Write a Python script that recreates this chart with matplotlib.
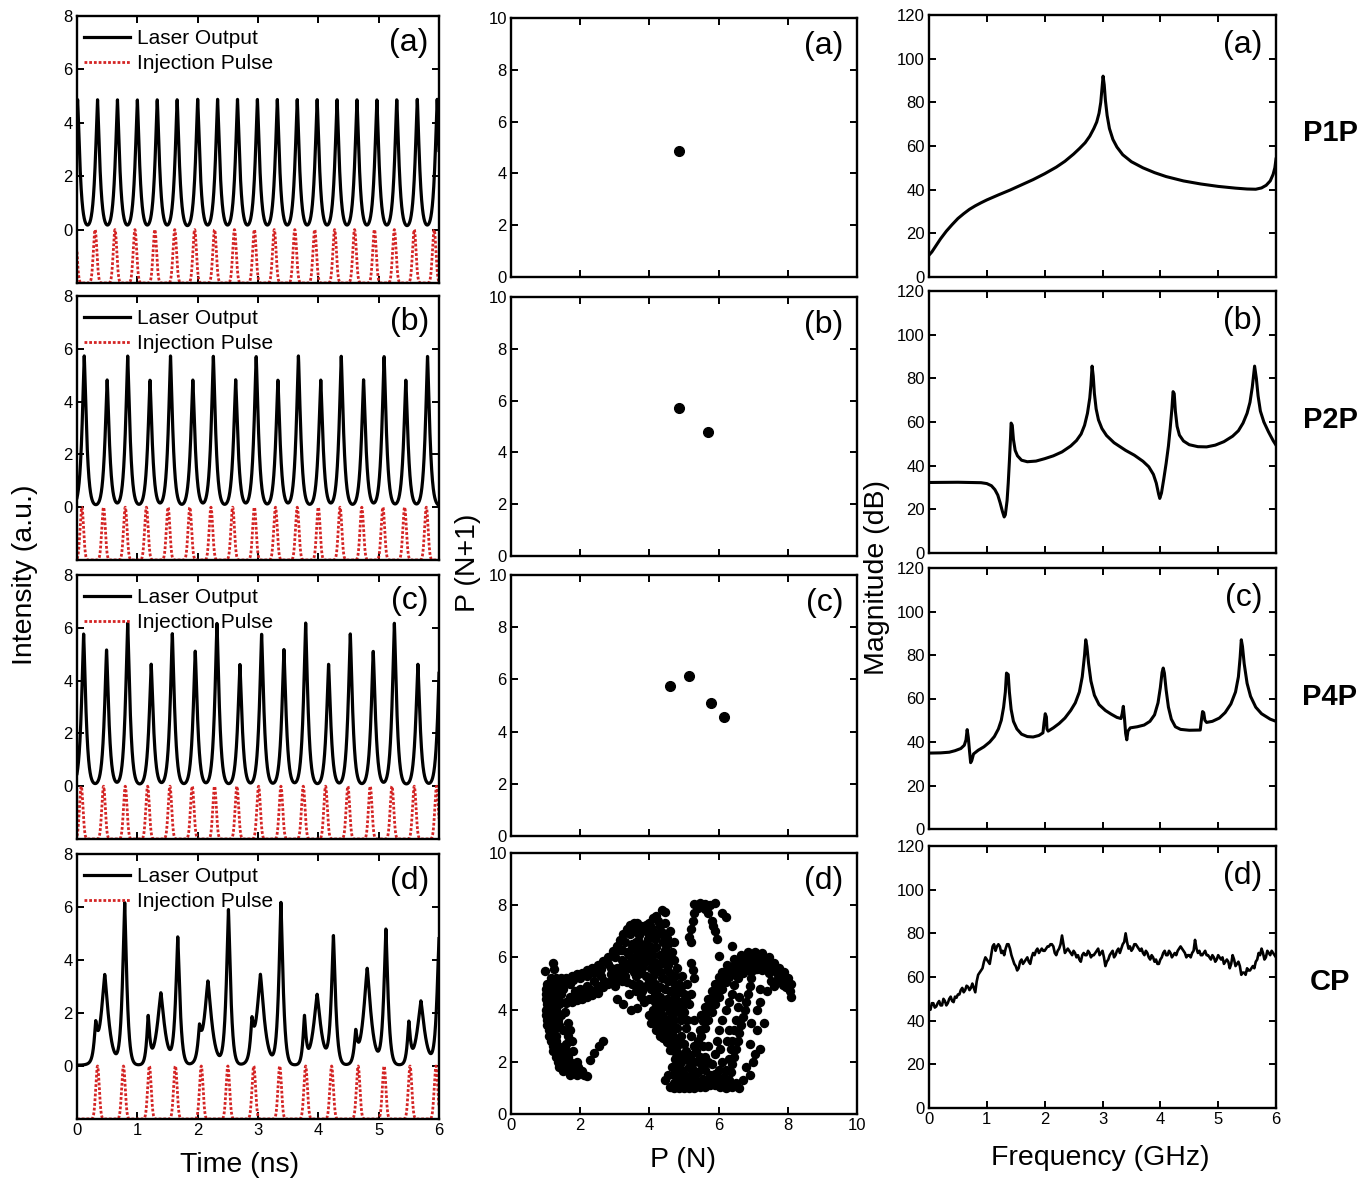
import numpy as np
import matplotlib.pyplot as plt

plt.rcParams['font.family'] = ['Liberation Sans', 'DejaVu Sans']

W, H = 1371, 1180

# ---------------- time traces: pulse peaks (ns) and heights (a.u.) ----------------
inj_a = [-0.03, 0.30, 0.63, 0.96, 1.29, 1.62, 1.95, 2.28, 2.61, 2.94, 3.27, 3.61,
         3.94, 4.27, 4.60, 4.93, 5.26, 5.59, 5.92]
laser_a_t = [0.01, 0.34, 0.67, 1.00, 1.33, 1.66, 2.00, 2.33, 2.66, 2.99, 3.32, 3.65,
             3.98, 4.31, 4.64, 4.97, 5.30, 5.64, 5.97]
laser_a_h = [4.85] * 19

inj_b = [0.08, 0.44, 0.80, 1.15, 1.51, 1.87, 2.22, 2.58, 2.94, 3.29, 3.65, 4.00,
         4.36, 4.72, 5.07, 5.43, 5.79]
laser_b_t = [0.12, 0.50, 0.84, 1.21, 1.55, 1.92, 2.26, 2.63, 2.97, 3.33, 3.67, 4.04,
             4.38, 4.75, 5.09, 5.45, 5.81]
laser_b_h = [5.7, 4.8, 5.7, 4.8, 5.7, 4.8, 5.7, 4.8, 5.7, 4.8, 5.7, 4.8, 5.7, 4.8,
             5.7, 4.8, 5.7]

inj_c = [0.07, 0.44, 0.80, 1.17, 1.54, 1.91, 2.28, 2.65, 3.01, 3.38, 3.75, 4.12,
         4.49, 4.86, 5.22, 5.59, 5.96]
laser_c_t = [0.11, 0.49, 0.84, 1.23, 1.58, 1.96, 2.32, 2.70, 3.06, 3.43, 3.79, 4.17,
             4.53, 4.91, 5.26, 5.65, 6.02]
laser_c_h = [5.75, 5.15, 6.15, 4.6, 5.75, 5.1, 6.15, 4.6, 5.75, 5.15, 6.15, 4.6,
             5.75, 5.1, 6.15, 4.6, 5.75]

inj_d = [0.34, 0.77, 1.20, 1.63, 2.06, 2.50, 2.93, 3.36, 3.79, 4.22, 4.66, 5.09,
         5.52, 5.95]
laser_d_t = [0.31, 0.46, 0.79, 1.18, 1.39, 1.67, 2.03, 2.17, 2.51, 2.90, 3.04, 3.38,
             3.77, 3.98, 4.25, 4.62, 4.81, 5.12, 5.50, 5.70, 6.00]
laser_d_h = [1.17, 3.43, 6.14, 1.74, 2.74, 4.80, 1.00, 3.18, 5.86, 1.23, 3.43, 6.14,
             1.74, 2.68, 4.86, 1.07, 3.66, 5.13, 1.51, 2.43, 4.75]
laser_d_w = [0.035, 0.09, 0.05, 0.035, 0.09, 0.05, 0.035, 0.09, 0.05, 0.035,
             0.09, 0.05, 0.035, 0.09, 0.05, 0.035, 0.09, 0.05, 0.035, 0.09,
             0.05]

# ---------------- return maps P(N) -> P(N+1) ----------------
map_a_x, map_a_y = [4.85], [4.85]
map_b_x, map_b_y = [4.85, 5.7], [5.7, 4.8]
map_c_x, map_c_y = [4.6, 5.15, 5.78, 6.16], [5.75, 6.13, 5.1, 4.56]

chaos_left = [
    (1.15, 5.2), (1.3, 5.2), (1.45, 5.2), (1.6, 5.2), (1.05, 5.0), (1.2, 5.0), (1.35, 5.0),
    (1.5, 5.0), (1.7, 5.0), (1.0, 4.8), (1.15, 4.8), (1.3, 4.8), (1.5, 4.8), (1.0, 4.6),
    (1.15, 4.6), (1.3, 4.6), (1.45, 4.6), (1.0, 4.4), (1.2, 4.4), (1.35, 4.4), (1.05, 4.2),
    (1.2, 4.2), (1.4, 4.2), (1.0, 4.0), (1.15, 4.0), (1.3, 4.0), (1.0, 3.8), (1.15, 3.8),
    (1.3, 3.8), (1.45, 3.8), (1.05, 3.6), (1.2, 3.6), (1.35, 3.6), (1.05, 3.4), (1.2, 3.4),
    (1.4, 3.4), (1.1, 3.2), (1.25, 3.2), (1.5, 3.2), (1.1, 3.0), (1.3, 3.0), (1.65, 3.0),
    (1.15, 2.8), (1.3, 2.8), (1.75, 2.8), (1.2, 2.6), (1.35, 2.6), (1.55, 2.6), (1.2, 2.4),
    (1.4, 2.4), (1.6, 2.4), (1.8, 2.4), (1.3, 2.2), (1.45, 2.2), (1.65, 2.2), (1.35, 2.0),
    (1.5, 2.0), (1.7, 2.0), (1.9, 2.0), (1.4, 1.8), (1.55, 1.8), (1.75, 1.8), (1.95, 1.8),
    (1.5, 1.65), (1.65, 1.65), (1.85, 1.65), (2.05, 1.65), (1.7, 1.5), (1.9, 1.5), (2.1, 1.5),
    (2.2, 1.45), (0.98, 5.47), (1.2, 5.78), (1.25, 5.55),
    (1.6, 4.3), (1.55, 3.9), (1.65, 3.5), (1.7, 3.2), (1.6, 2.7),
    (2.27, 2.08), (2.41, 2.34), (2.54, 2.59), (2.66, 2.78),
]
chaos_arch = [
    (1.75, 5.3), (1.9, 5.35), (2.05, 5.4), (2.2, 5.5), (2.35, 5.6), (2.5, 5.7), (2.65, 5.85),
    (2.8, 6.0), (2.95, 6.25), (3.05, 6.45), (3.15, 6.65), (3.25, 6.9), (3.35, 7.1),
    (3.45, 7.25), (3.55, 7.3), (3.65, 7.3), (3.75, 7.2), (3.85, 7.05),
    (1.8, 5.15), (2.0, 5.2), (2.2, 5.3), (2.4, 5.4), (2.6, 5.55), (2.8, 5.75), (3.0, 6.0),
    (3.15, 6.3), (3.3, 6.6), (3.45, 6.9), (3.6, 7.05),
    (1.6, 4.25), (1.75, 4.3), (1.9, 4.35), (2.05, 4.4), (2.2, 4.5), (2.35, 4.55), (2.5, 4.65),
    (2.65, 4.85), (2.8, 5.0), (2.95, 5.2), (3.1, 5.45), (3.25, 5.75), (3.4, 6.1), (3.5, 6.35),
    (3.6, 6.6), (3.7, 6.85), (3.8, 7.0), (3.9, 7.1), (4.0, 7.3),
    (1.7, 4.5), (1.9, 4.55), (2.1, 4.6), (2.3, 4.75), (2.5, 4.9), (2.7, 5.1), (2.9, 5.35),
    (3.05, 5.6), (3.2, 5.9), (3.35, 6.2),
    (3.0, 4.9), (3.2, 5.1), (3.3, 5.3), (3.4, 5.6), (3.5, 5.0), (3.6, 5.3), (3.7, 5.8),
    (3.55, 5.9), (3.75, 6.3), (4.1, 7.5), (4.2, 7.6), (4.35, 7.8), (4.45, 7.75), (4.0, 6.9),
    (3.95, 6.7), (3.05, 4.4), (3.24, 4.2), (3.48, 4.0), (3.65, 4.05), (3.77, 4.5), (3.8, 4.7),
    (3.4, 4.6),
    (2.9, 5.1), (3.1, 5.3), (3.25, 5.5), (3.1, 5.15), (3.35, 5.05), (3.55, 5.45), (3.65, 5.65),
    (3.45, 5.8), (3.6, 6.3), (3.5, 6.5), (3.7, 6.6), (3.8, 6.2), (3.85, 5.8), (3.75, 5.4),
    (3.7, 5.0), (3.6, 4.7), (3.85, 4.3),
]
chaos_center = [
    (3.9, 6.5), (3.95, 6.2), (4.0, 5.9), (4.05, 5.6), (4.1, 5.3), (4.15, 5.0), (4.2, 4.7),
    (4.25, 4.4), (4.3, 4.1), (4.35, 3.8), (4.4, 3.5), (4.45, 3.2),
    (4.3, 7.2), (4.35, 6.9), (4.4, 6.6), (4.45, 6.3), (4.5, 6.0), (4.55, 5.7), (4.6, 5.4),
    (4.65, 5.1), (4.7, 4.8), (4.75, 4.5), (4.8, 4.2), (4.85, 3.9),
    (4.1, 7.0), (4.15, 6.7), (4.2, 6.4), (4.3, 6.1), (4.35, 5.8),
    (4.2, 3.2), (4.3, 3.0), (4.4, 2.9), (4.5, 3.0), (4.6, 3.3), (4.5, 3.6), (4.6, 3.9),
    (4.4, 4.1), (4.5, 4.4), (4.6, 4.7), (4.7, 3.6), (4.8, 3.3), (4.9, 3.6), (5.0, 3.9),
    (4.9, 4.3), (5.0, 4.6), (4.85, 5.0), (4.95, 5.3), (4.1, 4.0), (4.0, 4.4), (3.9, 4.9),
    (4.0, 5.1), (4.25, 5.5), (4.4, 5.2), (4.45, 4.8), (4.3, 4.5), (4.65, 4.3), (4.7, 4.0),
    (4.3, 5.45), (4.5, 5.5), (5.2, 5.8), (5.25, 5.5), (5.3, 5.2), (5.1, 5.0), (5.2, 4.6),
    (5.15, 4.2),
    (3.85, 6.0), (3.8, 5.6), (3.9, 5.3), (4.05, 4.8), (4.15, 4.3), (4.2, 3.9), (4.3, 3.6),
    (4.55, 3.45), (4.65, 3.1), (4.75, 2.9), (4.6, 2.7), (4.7, 2.4), (4.75, 2.1), (4.65, 1.8),
    (4.55, 1.5), (4.45, 1.3), (5.05, 3.3), (5.1, 3.6), (4.55, 5.1), (4.65, 6.2), (4.7, 6.6),
    (4.6, 7.0), (4.45, 7.3), (3.7, 6.4), (3.6, 6.0), (3.3, 5.8), (2.9, 5.6), (2.6, 5.3),
    (2.4, 5.1), (2.2, 4.9), (2.0, 4.8), (1.85, 4.7), (3.2, 6.3), (3.9, 7.25), (4.05, 7.15),
    (4.25, 7.4),
    (4.05, 3.5), (4.15, 3.6), (4.0, 3.8), (4.25, 3.35), (4.5, 3.25), (4.75, 3.3), (4.9, 3.85),
    (4.95, 4.1), (5.05, 4.35), (4.8, 4.65), (4.9, 4.85), (4.75, 5.3), (4.8, 5.6), (4.7, 5.9),
    (4.55, 6.5), (4.4, 6.95), (4.25, 6.9), (4.5, 6.75), (4.05, 6.4), (4.1, 6.1), (4.2, 5.8),
    (4.35, 5.2), (4.3, 4.85), (4.15, 4.55), (4.4, 4.35), (4.55, 4.15), (4.65, 3.75),
    (4.35, 3.3), (4.5, 2.75), (4.6, 2.45), (4.85, 2.75), (4.8, 1.7), (4.7, 1.5), (4.85, 1.9),
    (5.0, 2.2), (5.0, 1.55), (5.25, 1.7), (5.2, 2.25),
]
chaos_right = [
    (4.9, 3.0), (5.0, 2.7), (5.05, 2.4), (5.1, 2.1), (5.15, 1.8), (5.2, 1.5), (4.8, 2.6),
    (4.85, 2.3), (4.9, 2.0), (4.95, 1.7), (4.8, 1.4), (4.7, 1.2), (4.6, 1.05), (5.0, 1.3),
    (5.1, 1.15),
    (5.3, 2.0), (5.35, 2.4), (5.4, 2.8), (5.45, 3.2), (5.55, 3.55), (5.65, 3.9), (5.75, 4.2),
    (5.85, 4.5), (5.95, 4.8), (6.05, 5.05), (6.15, 5.3), (6.25, 5.5), (6.35, 5.65),
    (6.5, 5.8), (6.6, 5.9), (6.7, 6.0), (6.8, 6.05), (6.9, 6.1), (7.0, 6.1), (7.1, 6.1),
    (7.2, 6.05), (7.3, 5.95), (7.4, 5.85), (7.5, 5.7), (7.6, 5.55), (7.7, 5.4),
    (5.5, 3.0), (5.6, 3.3), (5.7, 3.6), (5.8, 3.9), (5.9, 4.2), (6.0, 4.5), (6.1, 4.8),
    (6.2, 5.05), (6.3, 5.25), (6.45, 5.45), (6.6, 5.6), (6.75, 5.75), (6.9, 5.85),
    (7.05, 5.85), (7.2, 5.8), (7.35, 5.65),
    (5.5, 3.8), (5.6, 4.1), (5.7, 4.4), (5.8, 4.7), (5.9, 5.0), (6.0, 5.25), (6.1, 5.45),
    (6.25, 5.7), (6.45, 5.95), (6.65, 6.1), (6.85, 6.2), (7.05, 6.2), (7.25, 6.15),
    (7.45, 6.0), (7.6, 5.8), (7.75, 5.6), (7.9, 5.45), (6.95, 5.7), (7.15, 5.7), (7.4, 5.55),
    (5.4, 1.6), (5.5, 1.9), (5.6, 2.2), (5.7, 2.6), (5.35, 1.3), (5.55, 1.35), (5.75, 1.5),
    (5.8, 1.9), (5.9, 2.3), (5.95, 2.8), (6.0, 3.2),
    (5.3, 3.6), (5.2, 3.0), (5.3, 2.6), (5.45, 2.2), (5.55, 2.6), (5.6, 1.7), (5.7, 2.0),
    (6.1, 3.6), (6.2, 4.0), (6.3, 4.3), (6.4, 4.6), (6.45, 4.95), (6.55, 5.2), (6.7, 5.4),
    (6.85, 5.5), (7.1, 5.55), (7.25, 5.5), (7.45, 5.4), (7.5, 5.1), (7.4, 4.7),
    (6.05, 2.5), (6.1, 2.0), (6.0, 1.7), (5.9, 1.55), (6.25, 2.8), (6.3, 3.2),
    (7.8, 5.3), (7.9, 5.1), (8.0, 5.2), (8.1, 5.0), (7.95, 4.85), (8.05, 4.7), (8.1, 4.5),
    (7.85, 4.95), (7.7, 5.15), (7.6, 4.9),
    (7.0, 5.5), (6.95, 5.2), (6.9, 4.9), (6.85, 4.6), (6.8, 4.3), (6.75, 4.0), (6.7, 3.7),
    (6.65, 3.4), (6.6, 3.1), (6.55, 2.8), (6.5, 2.5), (6.45, 2.2), (6.4, 1.9), (6.35, 1.6),
    (6.3, 1.3), (6.25, 1.05),
    (6.6, 4.5), (6.55, 4.1), (6.5, 3.6), (6.45, 3.2), (6.4, 2.8), (6.35, 2.5), (6.3, 2.1),
    (6.2, 1.7), (6.15, 1.4),
    (7.1, 4.0), (7.3, 3.5), (7.2, 4.3), (6.95, 3.5), (6.9, 2.7), (7.05, 2.3), (7.2, 2.5),
    (7.0, 2.0), (6.8, 1.8), (6.9, 1.5), (7.1, 3.2), (6.7, 1.3), (6.6, 1.0), (7.2, 4.8),
    (4.7, 1.0), (4.85, 1.0), (5.0, 1.0), (5.15, 1.0), (5.3, 1.0), (5.45, 1.05), (5.6, 1.05),
    (5.75, 1.1), (5.9, 1.1), (6.05, 1.05), (6.2, 1.0), (6.4, 1.05), (6.5, 1.2), (5.2, 1.25),
    (5.5, 1.2), (5.8, 1.3), (6.0, 1.35), (6.1, 1.2), (5.65, 1.25), (4.9, 1.2),
]
chaos_top = [
    (5.3, 8.05), (5.45, 8.1), (5.6, 8.05), (5.9, 8.1), (5.75, 8.0), (6.1, 7.7), (6.2, 7.55),
    (5.3, 7.7), (5.25, 7.4), (5.2, 7.1), (5.15, 6.8), (5.2, 6.6), (5.7, 7.7), (5.8, 7.4),
    (5.85, 7.2), (5.9, 7.0), (5.95, 6.7), (6.02, 6.04), (6.4, 6.42), (5.4, 7.9), (5.6, 7.85),
]

# ---------------- RF spectra (GHz, dB) ----------------
spec_a = [
    (0.0, 10.0), (0.05, 11.5), (0.1, 13.5), (0.15, 15.5), (0.2, 17.5), (0.3, 21.0),
    (0.4, 24.0), (0.5, 26.8), (0.6, 29.0), (0.7, 31.0), (0.8, 32.6), (0.9, 34.0),
    (1.0, 35.3), (1.2, 37.6), (1.4, 39.8), (1.6, 42.2), (1.8, 44.6), (2.0, 47.3),
    (2.2, 50.3), (2.35, 53.0), (2.5, 56.3), (2.6, 58.8), (2.7, 61.5), (2.78, 64.5),
    (2.85, 68.0), (2.9, 71.0), (2.94, 75.0), (2.97, 80.0), (2.99, 86.0), (3.01, 92.0),
    (3.03, 88.0), (3.05, 81.0), (3.08, 74.0), (3.12, 68.0), (3.18, 63.0), (3.25, 59.5),
    (3.35, 56.0), (3.5, 52.8), (3.7, 50.0), (3.9, 47.8), (4.1, 46.0), (4.4, 44.0),
    (4.7, 42.6), (5.0, 41.5), (5.3, 40.7), (5.5, 40.3), (5.65, 40.2), (5.75, 40.8),
    (5.83, 42.0), (5.9, 44.0), (5.95, 47.0), (5.98, 50.0), (6.0, 54.0),
]
spec_b = [
    (0.0, 32.3), (0.5, 32.4), (0.9, 32.2), (1.0, 31.8), (1.08, 30.8), (1.14, 29.0),
    (1.19, 26.5), (1.23, 23.0), (1.27, 19.0), (1.30, 16.5), (1.32, 17.5), (1.35, 24.0),
    (1.37, 32.0), (1.39, 42.0), (1.41, 53.0), (1.42, 59.5), (1.44, 58.5), (1.46, 52.0),
    (1.49, 47.0), (1.53, 44.5), (1.6, 42.5), (1.7, 41.8), (1.85, 42.1), (2.0, 43.2),
    (2.15, 44.5), (2.3, 46.3), (2.45, 49.0), (2.55, 51.5), (2.63, 54.5), (2.69, 58.5),
    (2.74, 64.0), (2.78, 71.0), (2.80, 77.0), (2.82, 85.6), (2.84, 81.0), (2.86, 73.0),
    (2.89, 66.0), (2.93, 61.0), (2.99, 57.0), (3.07, 53.8), (3.2, 50.5), (3.4, 47.0),
    (3.55, 44.8), (3.7, 42.0), (3.8, 39.5), (3.88, 36.0), (3.93, 32.0), (3.97, 27.0),
    (3.99, 25.0), (4.02, 27.5), (4.06, 34.0), (4.1, 41.0), (4.14, 49.0), (4.17, 57.0),
    (4.20, 66.0), (4.22, 73.9), (4.24, 73.0), (4.26, 65.0), (4.29, 58.0), (4.33, 54.0),
    (4.4, 51.3), (4.5, 49.6), (4.65, 48.7), (4.8, 48.6), (4.95, 49.4), (5.1, 51.0),
    (5.25, 53.5), (5.35, 56.0), (5.43, 59.5), (5.5, 64.0), (5.55, 69.0), (5.59, 76.0),
    (5.63, 85.6), (5.66, 80.0), (5.69, 72.0), (5.73, 65.0), (5.79, 60.0), (5.87, 55.5),
    (5.95, 51.5), (6.0, 49.4),
]
spec_c = [
    (0.0, 34.9), (0.2, 35.0), (0.35, 35.3), (0.45, 36.0), (0.55, 37.0), (0.61, 38.5),
    (0.64, 41.0), (0.66, 45.7), (0.68, 42.0), (0.70, 36.0), (0.72, 30.5), (0.74, 31.5),
    (0.77, 34.5), (0.85, 36.2), (0.95, 37.8), (1.05, 40.0), (1.13, 42.5), (1.2, 46.0),
    (1.25, 50.0), (1.29, 56.0), (1.32, 63.0), (1.34, 71.7), (1.37, 71.0), (1.39, 63.0),
    (1.42, 55.0), (1.46, 49.5), (1.52, 46.0), (1.6, 43.6), (1.7, 42.5), (1.8, 42.3),
    (1.9, 43.0), (1.97, 44.2), (1.99, 49.0), (2.01, 53.0), (2.03, 51.5), (2.04, 46.0),
    (2.06, 45.0), (2.15, 46.5), (2.25, 48.5), (2.35, 51.0), (2.45, 54.5), (2.53, 58.0),
    (2.6, 63.0), (2.65, 70.0), (2.69, 80.0), (2.71, 87.0), (2.73, 84.0), (2.76, 76.0),
    (2.8, 68.0), (2.86, 61.5), (2.94, 57.2), (3.05, 54.5), (3.15, 52.8), (3.25, 51.3),
    (3.32, 50.8), (3.34, 53.0), (3.36, 56.4), (3.38, 51.0), (3.40, 44.0), (3.42, 41.0),
    (3.44, 45.0), (3.48, 46.5), (3.6, 47.0), (3.72, 47.8), (3.82, 49.5), (3.9, 52.5),
    (3.96, 58.0), (4.0, 65.0), (4.03, 72.0), (4.05, 74.0), (4.07, 71.7), (4.1, 64.0),
    (4.14, 56.0), (4.19, 50.5), (4.26, 47.0), (4.35, 45.8), (4.5, 45.4), (4.69, 45.5),
    (4.71, 50.0), (4.73, 54.0), (4.75, 53.5), (4.77, 50.0), (4.8, 49.0), (4.9, 49.5),
    (5.02, 51.0), (5.12, 53.5), (5.22, 57.5), (5.3, 63.0), (5.35, 70.0), (5.38, 79.0),
    (5.40, 87.0), (5.42, 84.0), (5.45, 76.0), (5.5, 67.0), (5.56, 61.0), (5.65, 56.0),
    (5.75, 53.0), (5.9, 50.5), (6.0, 49.5),
]
# chaotic spectrum sampled every 0.025 GHz
spec_d_db = [
    46, 45, 48, 48, 46, 46.5, 48, 49, 47, 47, 50, 49, 47, 48, 50, 51, 49, 48.5, 51, 50.5,
    52, 52, 54, 55, 53, 54, 56, 55.5, 54, 55, 57, 55, 53, 58, 61, 62, 63, 64, 67, 69,
    68, 67, 66, 70, 74, 75, 72, 74, 75, 74, 71, 72, 70, 73, 75, 75, 73, 70, 68, 66,
    65, 63, 64, 67, 68, 66, 67, 68, 69, 67, 66, 69, 71, 70, 72, 73, 71, 72, 73, 72,
    72, 73, 74, 74, 75, 75, 74, 71, 70, 72, 73, 75, 79, 75, 71, 72, 73, 72, 71, 70,
    72, 71, 69, 70, 68, 67, 70, 71, 70, 70, 72, 71, 69, 70, 70, 71, 72, 73, 70, 71,
    72, 69, 65, 67, 68, 70, 71, 72, 69, 70, 72, 73, 71, 73, 75, 76, 80, 76, 73, 74,
    72, 73, 75, 75, 74, 73, 72, 73, 71, 70, 72, 71, 69, 68, 70, 69, 67, 68, 66, 66,
    68, 69, 71, 72, 70, 70, 72, 71, 69, 70, 71, 70, 72, 73, 74, 73, 72, 71, 69, 70,
    70, 69, 71, 72, 77, 73, 71, 72, 70, 70, 71, 72, 70, 70, 69, 68, 70, 69, 67, 68,
    70, 69, 68, 69, 66, 67, 68, 67, 64, 66, 70, 68, 65, 66, 67, 65, 61, 62, 62, 61,
    64, 63, 63, 64, 65, 64, 67, 68, 71, 70, 73, 71, 68, 69, 72, 71, 70, 72, 71, 70,
    69,
]


def laser_trace(t, times, heights, widths=None):
    if widths is None:
        widths = [0.052] * len(times)
    y = np.full_like(t, 0.03)
    for t0, h, w in zip(times, heights, widths):
        y += h * np.exp(-(np.abs(t - t0) / w) ** 1.25)
    return y


def injection_trace(t, times):
    y = np.full_like(t, -2.0)
    for t0 in times:
        y += 2.0 * np.exp(-0.5 * ((t - t0) / 0.029) ** 2)
    return y


def new_axes(fig, x0, x1, y0, y1):
    return fig.add_axes([x0 / W, 1 - y1 / H, (x1 - x0) / W, (y1 - y0) / H])


def style(ax):
    ax.tick_params(direction='in', top=True, right=True, length=5, width=1.4,
                   labelsize=12, pad=3)
    for s in ax.spines.values():
        s.set_linewidth(1.7)


fig = plt.figure(figsize=(W / 100, H / 100), dpi=100)

left_rows = [(16, 283), (296, 560), (575, 839), (854, 1119)]
mid_rows = [(18, 277), (297, 556), (575, 836), (853, 1114)]
right_rows = [(15, 277), (291, 553), (568, 829), (846, 1108)]
tags = ['(a)', '(b)', '(c)', '(d)']

t = np.linspace(0, 6, 4000)
traces = [
    (inj_a, laser_a_t, laser_a_h, None),
    (inj_b, laser_b_t, laser_b_h, None),
    (inj_c, laser_c_t, laser_c_h, None),
    (inj_d, laser_d_t, laser_d_h, laser_d_w),
]

# left column: time traces
for i, (inj, lt, lh, lw) in enumerate(traces):
    ax = new_axes(fig, 77, 439, *left_rows[i])
    ax.plot(t, laser_trace(t, lt, lh, lw), color='black', lw=2.3, label='Laser Output')
    ax.plot(t, injection_trace(t, inj), color='#d42424', lw=2.0, ls=(0, (1.0, 0.7)),
            label='Injection Pulse')
    ax.set_xlim(0, 6)
    ax.set_ylim(-2, 8)
    ax.set_xticks(range(7))
    ax.set_yticks([0, 2, 4, 6, 8])
    style(ax)
    if i < 3:
        ax.set_xticklabels([])
    ax.legend(loc='upper left', bbox_to_anchor=(0.0, 0.978), frameon=False,
              fontsize=15, handlelength=2.2, handletextpad=0.33, labelspacing=0.28,
              borderaxespad=0.1, borderpad=0.25)
    ax.text(0.972, 0.9, tags[i], transform=ax.transAxes, ha='right', va='center',
            fontsize=23)

# middle column: return maps
maps = [(map_a_x, map_a_y), (map_b_x, map_b_y), (map_c_x, map_c_y)]
for i in range(4):
    ax = new_axes(fig, 511, 857, *mid_rows[i])
    if i < 3:
        ax.plot(maps[i][0], maps[i][1], 'o', color='black', ms=7)
    else:
        for group in (chaos_left, chaos_arch, chaos_center, chaos_right, chaos_top):
            gx, gy = zip(*group)
            ax.plot(gx, gy, 'o', color='black', ms=6.8, mew=0)
    ax.set_xlim(0, 10)
    ax.set_ylim(0, 10)
    ax.set_xticks(range(0, 11, 2))
    ax.set_yticks(range(0, 11, 2))
    style(ax)
    if i < 3:
        ax.set_xticklabels([])
    ax.text(0.96, 0.893, tags[i], transform=ax.transAxes, ha='right', va='center',
            fontsize=23)

# right column: RF spectra
spectra = [np.array(spec_a).T, np.array(spec_b).T, np.array(spec_c).T,
           np.array([np.linspace(0, 6, len(spec_d_db)), spec_d_db])]
for i in range(4):
    ax = new_axes(fig, 929, 1276, *right_rows[i])
    f, db = spectra[i]
    ax.plot(f, db, color='black', lw=2.2 if i < 3 else 1.9)
    ax.set_xlim(0, 6)
    ax.set_ylim(0, 120)
    ax.set_xticks(range(7))
    ax.set_yticks(range(0, 121, 20))
    style(ax)
    if i < 3:
        ax.set_xticklabels([])
    ax.text(0.96, 0.885, tags[i], transform=ax.transAxes, ha='right', va='center',
            fontsize=23)

# shared axis titles
fig.text(25 / W, 1 - 575 / H, 'Intensity (a.u.)', rotation=90, ha='center',
         va='center', fontsize=20.5)
fig.text(468 / W, 1 - 563 / H, 'P (N+1)', rotation=90, ha='center', va='center',
         fontsize=20.5)
fig.text(877 / W, 1 - 578 / H, 'Magnitude (dB)', rotation=90, ha='center',
         va='center', fontsize=20.5)
fig.text(240 / W, 1 - 1165 / H, 'Time (ns)', ha='center', va='center', fontsize=20.5)
fig.text(683 / W, 1 - 1160 / H, 'P (N)', ha='center', va='center', fontsize=20.5)
fig.text(1100 / W, 1 - 1158 / H, 'Frequency (GHz)', ha='center', va='center',
         fontsize=20.5)

# dynamic-state labels
for label, yc in zip(['P1P', 'P2P', 'P4P', 'CP'], [133, 420, 697, 982]):
    fig.text(1330 / W, 1 - yc / H, label, ha='center', va='center', fontsize=21,
             fontweight='bold')

fig.savefig('out.png', dpi=100)
